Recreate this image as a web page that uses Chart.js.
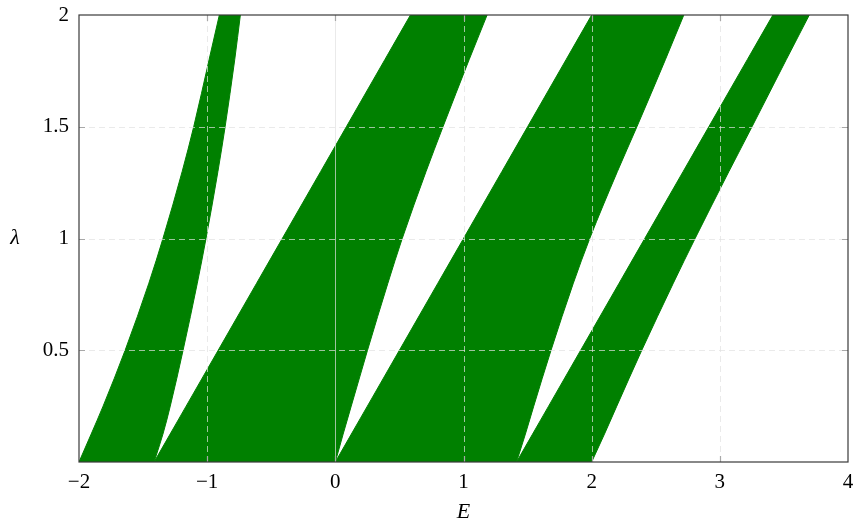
<!DOCTYPE html>
<html>
<head>
<meta charset="utf-8">
<script src="https://cdn.jsdelivr.net/npm/chart.js@4/dist/chart.umd.min.js"></script>
<style>
  html, body { margin: 0; padding: 0; background: #fff; }
</style>
</head>
<body>
<canvas id="chart" width="855" height="523"></canvas>
<script>
// ---- values (E at each lambda) ----
const lambdas    = [0, 0.125, 0.25, 0.5, 0.8, 1.0, 1.3, 1.5, 1.8, 2.0];

const band1Left  = [-2, -1.905, -1.812, -1.640, -1.455, -1.345, -1.195, -1.105, -0.985, -0.905];
const band1Right = [-1.414, -1.345, -1.288, -1.188, -1.077, -1.009, -0.916, -0.860, -0.785, -0.741];
const band2Left  = [-1.414, -1.289, -1.164, -0.914, -0.614, -0.414, -0.114, 0.086, 0.386, 0.586];
const band2Right = [0, 0.061, 0.124, 0.251, 0.410, 0.522, 0.708, 0.840, 1.044, 1.184];
const band3Left  = [0, 0.125, 0.25, 0.5, 0.8, 1.0, 1.3, 1.5, 1.8, 2.0];
const band3Right = [1.414, 1.483, 1.548, 1.683, 1.857, 1.985, 2.201, 2.353, 2.575, 2.719];
const band4Left  = [1.414, 1.539, 1.664, 1.914, 2.214, 2.414, 2.714, 2.914, 3.214, 3.414];
const band4Right = [2, 2.100, 2.196, 2.391, 2.637, 2.807, 3.071, 3.251, 3.518, 3.698];

const xTicks = [-2, -1, 0, 1, 2, 3, 4];
const yTicks = [0, 0.5, 1, 1.5, 2];

const GREEN = '#008000';
const SERIF = "'Liberation Serif', 'DejaVu Serif', serif";

const edge = arr => lambdas.map((l, i) => ({ x: arr[i], y: l }));

// each band = left edge + right edge filled back to the left one
const edges = [
  [band1Left, band1Right],
  [band2Left, band2Right],
  [band3Left, band3Right],
  [band4Left, band4Right]
];
const datasets = [];
edges.forEach(([l, r]) => {
  datasets.push({ data: edge(l), fill: false });
  datasets.push({ data: edge(r), fill: '-1' });
});
datasets.forEach(d => Object.assign(d, {
  backgroundColor: GREEN,
  borderColor: GREEN,
  borderWidth: 1,
  pointRadius: 0,
  cubicInterpolationMode: 'monotone'
}));

// grid, inward ticks, frame and axis titles, drawn over the bands
const frameAndGrid = {
  id: 'frameAndGrid',
  afterDatasetsDraw(chart) {
    const { ctx, chartArea: a, scales: { x, y } } = chart;
    ctx.save();

    ctx.lineWidth = 1;
    ctx.strokeStyle = 'rgba(225,225,225,0.7)';
    xTicks.slice(1, -1).forEach(v => {
      const px = Math.round(x.getPixelForValue(v)) + 0.5;
      ctx.setLineDash(v === 0 ? [] : [6, 4]);
      ctx.beginPath(); ctx.moveTo(px, a.bottom); ctx.lineTo(px, a.top); ctx.stroke();
    });
    ctx.setLineDash([6, 4]);
    yTicks.slice(1, -1).forEach(v => {
      const py = Math.round(y.getPixelForValue(v)) + 0.5;
      ctx.beginPath(); ctx.moveTo(a.left, py); ctx.lineTo(a.right, py); ctx.stroke();
    });
    ctx.setLineDash([]);

    // tick marks, inward on both sides
    ctx.strokeStyle = '#a8a8a8';
    ctx.lineWidth = 1.2;
    const tl = 6;
    xTicks.slice(1, -1).forEach(v => {
      const px = Math.round(x.getPixelForValue(v)) + 0.5;
      ctx.beginPath();
      ctx.moveTo(px, a.bottom); ctx.lineTo(px, a.bottom - tl);
      ctx.moveTo(px, a.top); ctx.lineTo(px, a.top + tl);
      ctx.stroke();
    });
    yTicks.slice(1, -1).forEach(v => {
      const py = Math.round(y.getPixelForValue(v)) + 0.5;
      ctx.beginPath();
      ctx.moveTo(a.left, py); ctx.lineTo(a.left + tl, py);
      ctx.moveTo(a.right, py); ctx.lineTo(a.right - tl, py);
      ctx.stroke();
    });

    // frame
    ctx.strokeStyle = '#3a3a3a';
    ctx.lineWidth = 1.2;
    ctx.strokeRect(a.left, a.top, a.right - a.left, a.bottom - a.top);

    // axis titles
    ctx.fillStyle = '#000';
    ctx.textAlign = 'center';
    ctx.textBaseline = 'middle';
    ctx.font = 'italic 22px ' + SERIF;
    ctx.fillText('E', (a.left + a.right) / 2, 512);
    ctx.fillText('\u03bb', 15, y.getPixelForValue(1));

    ctx.restore();
  }
};

new Chart(document.getElementById('chart'), {
  type: 'line',
  data: { datasets },
  options: {
    indexAxis: 'y',
    responsive: false,
    animation: false,
    events: [],
    layout: { padding: { left: 0, right: 7, top: 15, bottom: 0 } },
    plugins: { legend: { display: false }, tooltip: { enabled: false } },
    scales: {
      x: {
        type: 'linear',
        position: 'bottom',
        min: -2, max: 4,
        afterBuildTicks: s => { s.ticks = xTicks.map(v => ({ value: v })); },
        afterFit: s => { s.height = 61; s.paddingLeft = 0; s.paddingRight = 0; },
        grid: { display: false, drawTicks: false },
        border: { display: false },
        ticks: {
          padding: 8,
          color: '#000',
          font: { family: SERIF, size: 21 },
          callback: v => (v < 0 ? '\u2212' + Math.abs(v) : String(v))
        }
      },
      y: {
        type: 'linear',
        position: 'left',
        min: 0, max: 2,
        afterBuildTicks: s => { s.ticks = yTicks.map(v => ({ value: v })); },
        afterFit: s => { s.width = 79; s.paddingTop = 0; s.paddingBottom = 0; },
        grid: { display: false, drawTicks: false },
        border: { display: false },
        ticks: {
          padding: 10,
          color: '#000',
          font: { family: SERIF, size: 21 },
          callback: v => (v === 0 ? '' : String(v))
        }
      }
    }
  },
  plugins: [frameAndGrid]
});
</script>
</body>
</html>
